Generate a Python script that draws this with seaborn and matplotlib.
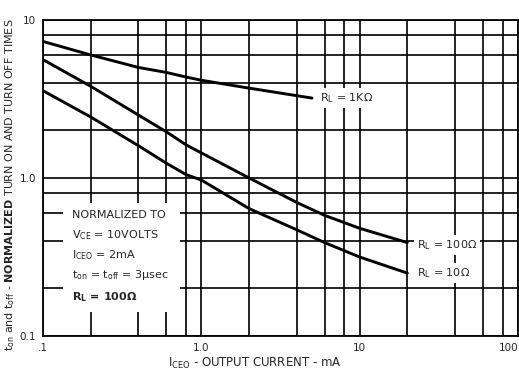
import numpy as np
import pandas as pd
import seaborn as sns
import matplotlib.pyplot as plt
from matplotlib.patches import Rectangle

sns.set_style('white')
plt.rcParams['font.family'] = ['DejaVu Sans']
plt.rcParams['mathtext.default'] = 'regular'

# curves (I_CEO in mA, normalized time)
x_1k = [0.1, 0.2, 0.4, 0.6, 0.8, 1.0, 2.0, 5.0]
y_1k = [7.3, 6.0, 5.0, 4.65, 4.35, 4.15, 3.7, 3.2]

x_100 = [0.1, 0.2, 0.4, 0.6, 0.8, 1.0, 2.0, 4.0, 6.0, 10.0, 20.0]
y_100 = [5.6, 3.8, 2.5, 1.96, 1.62, 1.44, 1.0, 0.7, 0.58, 0.48, 0.39]

x_10 = [0.1, 0.2, 0.4, 0.6, 0.8, 1.0, 2.0, 4.0, 6.0, 10.0, 20.0]
y_10 = [3.56, 2.43, 1.6, 1.24, 1.05, 0.97, 0.64, 0.47, 0.39, 0.316, 0.25]

grid_x = [0.1, 0.2, 0.4, 0.6, 0.8, 1, 2, 4, 6, 8, 10, 20, 40, 60, 80, 100]
grid_y = [0.1, 0.2, 0.4, 0.6, 0.8, 1, 2, 4, 6, 8, 10]
xlabels = {0.1: '.1', 1: '1.0', 10: '10', 100: '100'}
ylabels = {0.1: '0.1', 1: '1.0', 10: '10'}

curves = pd.concat([
    pd.DataFrame({'I': x_1k, 't': y_1k, 'RL': '1K'}),
    pd.DataFrame({'I': x_100, 't': y_100, 'RL': '100'}),
    pd.DataFrame({'I': x_10, 't': y_10, 'RL': '10'}),
])

fig = plt.figure(figsize=(5.19, 3.75), dpi=100)
ax = fig.add_axes([0.083, 0.104, 0.915, 0.843])

for rl, d in curves.groupby('RL', sort=False):
    sns.lineplot(data=d, x='I', y='t', ax=ax, color='black', lw=2.1,
                 estimator=None, sort=False, zorder=3)

ax.set_xscale('log')
ax.set_yscale('log')
ax.set_xlim(0.1, 100)
ax.set_ylim(0.1, 10)
ax.set_axisbelow(True)

ax.set_xticks(grid_x)
ax.set_xticklabels([xlabels.get(v, '') for v in grid_x])
ax.get_xticklabels()[-1].set_ha('right')
ax.set_yticks(grid_y)
ax.set_yticklabels([ylabels.get(v, '') for v in grid_y])
ax.xaxis.set_minor_locator(plt.NullLocator())
ax.yaxis.set_minor_locator(plt.NullLocator())
ax.tick_params(length=0, labelsize=7.5, pad=5)
ax.grid(True, color='black', lw=1.2)
for s in ax.spines.values():
    s.set_color('black')
    s.set_linewidth(1.3)
ax.set_xlabel('')
ax.set_ylabel('')

# white block behind the note
ax.add_patch(Rectangle((0.134, 0.142), 0.736 - 0.134, 0.695 - 0.142,
                       facecolor='white', edgecolor='none', zorder=1))

note = ['NORMALIZED TO',
        r'V$_{CE}$ = 10VOLTS',
        r'I$_{CEO}$ = 2mA',
        r't$_{on}$ = t$_{off}$ = 3$\mu$sec']
for i, s in enumerate(note):
    ax.text(0.061, 0.383 - i * 0.0635, s, transform=ax.transAxes,
            fontsize=8, va='center', ha='left', zorder=4)
ax.text(0.061, 0.123, r'R$_L$ = 100$\Omega$', transform=ax.transAxes,
        fontsize=8, fontweight='bold', va='center', ha='left', zorder=4)

box = dict(facecolor='white', edgecolor='none', pad=2)
ax.text(0.583, 0.753, r'R$_L$ = 1K$\Omega$', transform=ax.transAxes,
        fontsize=8, va='center', ha='left', bbox=box, zorder=4)
ax.text(0.787, 0.288, r'R$_L$ = 100$\Omega$', transform=ax.transAxes,
        fontsize=8, va='center', ha='left', bbox=box, zorder=4)
ax.text(0.787, 0.199, r'R$_L$ = 10$\Omega$', transform=ax.transAxes,
        fontsize=8, va='center', ha='left', bbox=box, zorder=4)

fig.text(0.491, 0.032, r'I$_{CEO}$ - OUTPUT CURRENT - mA', fontsize=8.5,
         ha='center', va='center')
fig.text(0.019, 0.507,
         r't$_{on}$ and t$_{off}$ - $\mathbf{NORMALIZED}$ TURN ON AND TURN OFF TIMES',
         fontsize=8, rotation=90, ha='center', va='center')

fig.savefig('out.png', dpi=100)
